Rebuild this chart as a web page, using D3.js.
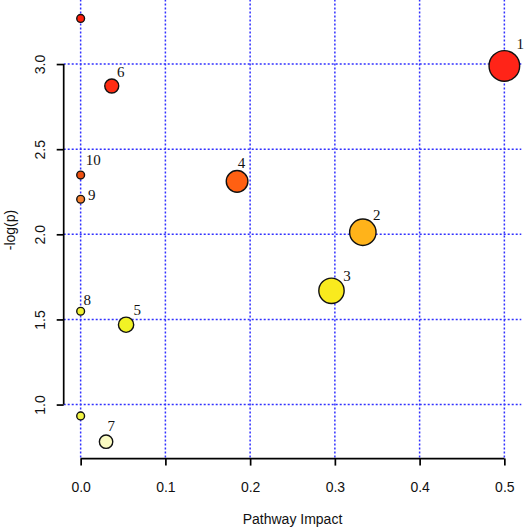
<!DOCTYPE html>
<html>
<head>
<meta charset="utf-8">
<script src="https://cdn.jsdelivr.net/npm/d3@7"></script>
<style>
  html, body { margin: 0; padding: 0; background: #fff; }
  svg { display: block; }
</style>
</head>
<body>
<svg id="chart" width="524" height="530"></svg>
<script>
// ---- data ----
const labels = ["", "1", "6", "10", "4", "9", "2", "3", "8", "5", "", "7"];
const impact = [0, 0.5, 0.0367, 0, 0.1846, 0, 0.333, 0.296, 0, 0.0536, 0, 0.030];
const logP   = [3.268, 2.989, 2.871, 2.348, 2.311, 2.206, 2.012, 1.668, 1.548, 1.469, 0.933, 0.782];
const xTicks = [0, 0.1, 0.2, 0.3, 0.4, 0.5];
const yTicks = [1.0, 1.5, 2.0, 2.5, 3.0];
const colorStops  = [0.782, 0.933, 1.469, 1.548, 1.668, 2.012, 2.206, 2.311, 2.348, 2.871, 2.989, 3.268];
const colorValues = ["#fbfbc2", "#f2f444", "#f1f225", "#f0f232", "#f9ea1e", "#ffb31a",
                     "#f58030", "#ff6012", "#ee5010", "#ff2c12", "#ff2418", "#ff200c"];

// ---- layout ----
const svg = d3.select("#chart");

// R-style 4% axis extension
function pad(ext) { const d = (ext[1] - ext[0]) * 0.04; return [ext[0] - d, ext[1] + d]; }
const xDom = pad([0, 0.5]);
const yDom = pad(d3.extent(logP));

const plotL = 63.7, plotR = 521.3, plotT = 1.5, plotB = 458.6;
const x = d3.scaleLinear().domain(xDom).range([plotL, plotR]);
const y = d3.scaleLinear().domain(yDom).range([plotB, plotT]);
const r = d3.scaleSqrt().domain([0, 0.5]).range([3.9, 15.3]);
const color = d3.scaleLinear().domain(colorStops).range(colorValues);

// ---- grid ----
const grid = svg.append("g")
  .attr("stroke", "#3030ff")
  .attr("stroke-width", 1.5)
  .attr("stroke-dasharray", "2,2");
grid.selectAll("line.v").data(xTicks).join("line")
  .attr("x1", d => x(d)).attr("x2", d => x(d))
  .attr("y1", plotT - 2).attr("y2", plotB);
grid.selectAll("line.h").data(yTicks).join("line")
  .attr("y1", d => y(d)).attr("y2", d => y(d))
  .attr("x1", plotL).attr("x2", plotR);

// ---- axes ----
const font = "'Liberation Sans', Arial, sans-serif";
const xAxis = svg.append("g")
  .attr("transform", `translate(0,${plotB})`)
  .call(d3.axisBottom(x).tickValues(xTicks).tickFormat(d3.format(".1f")).tickSize(7).tickPadding(16).tickSizeOuter(0));
xAxis.select(".domain").attr("d", `M${x(0)},0H${x(0.5)}`).attr("stroke", "#000").attr("stroke-width", 1.7);
xAxis.selectAll(".tick line").attr("stroke", "#000").attr("stroke-width", 1.7);
xAxis.selectAll(".tick text").attr("font-family", font).attr("font-size", 14).attr("fill", "#111");

const yAxis = svg.append("g")
  .attr("transform", `translate(${plotL},0)`)
  .call(d3.axisLeft(y).tickValues(yTicks).tickFormat(d3.format(".1f")).tickSize(7).tickSizeOuter(0));
yAxis.select(".domain").attr("d", `M0,${y(1)}V${y(3)}`).attr("stroke", "#000").attr("stroke-width", 1.7);
yAxis.selectAll(".tick line").attr("stroke", "#000").attr("stroke-width", 1.7);
yAxis.selectAll(".tick text")
  .attr("font-family", font).attr("font-size", 14).attr("fill", "#111")
  .attr("x", null).attr("dy", null)
  .attr("text-anchor", "middle")
  .attr("dominant-baseline", "central")
  .attr("transform", "translate(-24,0) rotate(-90)");

// axis titles
svg.append("text")
  .attr("x", (plotL + plotR) / 2).attr("y", 519)
  .attr("text-anchor", "middle").attr("dominant-baseline", "central")
  .attr("font-family", font).attr("font-size", 14).attr("fill", "#111")
  .text("Pathway Impact");
svg.append("text")
  .attr("transform", `translate(10,${(plotT + plotB) / 2}) rotate(-90)`)
  .attr("text-anchor", "middle").attr("dominant-baseline", "central")
  .attr("font-family", font).attr("font-size", 14).attr("fill", "#111")
  .text("-log(p)");

// ---- points ----
const pts = labels.map((l, i) => ({ label: l, x: impact[i], y: logP[i] }));
const order = pts.slice().sort((a, b) => b.x - a.x);
svg.append("g").selectAll("circle").data(order).join("circle")
  .attr("cx", d => x(d.x)).attr("cy", d => y(d.y))
  .attr("r", d => r(d.x))
  .attr("fill", d => color(d.y))
  .attr("stroke", "#111").attr("stroke-width", 1.4);

// label offsets (presentation only)
const labelOffset = {
  "1": [16, -22], "2": [14, -17], "3": [15.5, -14.6], "4": [4.5, -18], "5": [11.2, -14.7],
  "6": [9, -14.3], "7": [5.3, -16], "8": [6.6, -11.3], "9": [11, -3.8], "10": [12.6, -14.7]
};
svg.append("g").selectAll("text").data(pts.filter(d => d.label)).join("text")
  .attr("x", d => x(d.x) + labelOffset[d.label][0])
  .attr("y", d => y(d.y) + labelOffset[d.label][1])
  .attr("text-anchor", "middle").attr("dominant-baseline", "central")
  .attr("font-family", "'Liberation Serif', 'Times New Roman', serif")
  .attr("font-size", 15).attr("fill", "#111")
  .text(d => d.label);
</script>
</body>
</html>
